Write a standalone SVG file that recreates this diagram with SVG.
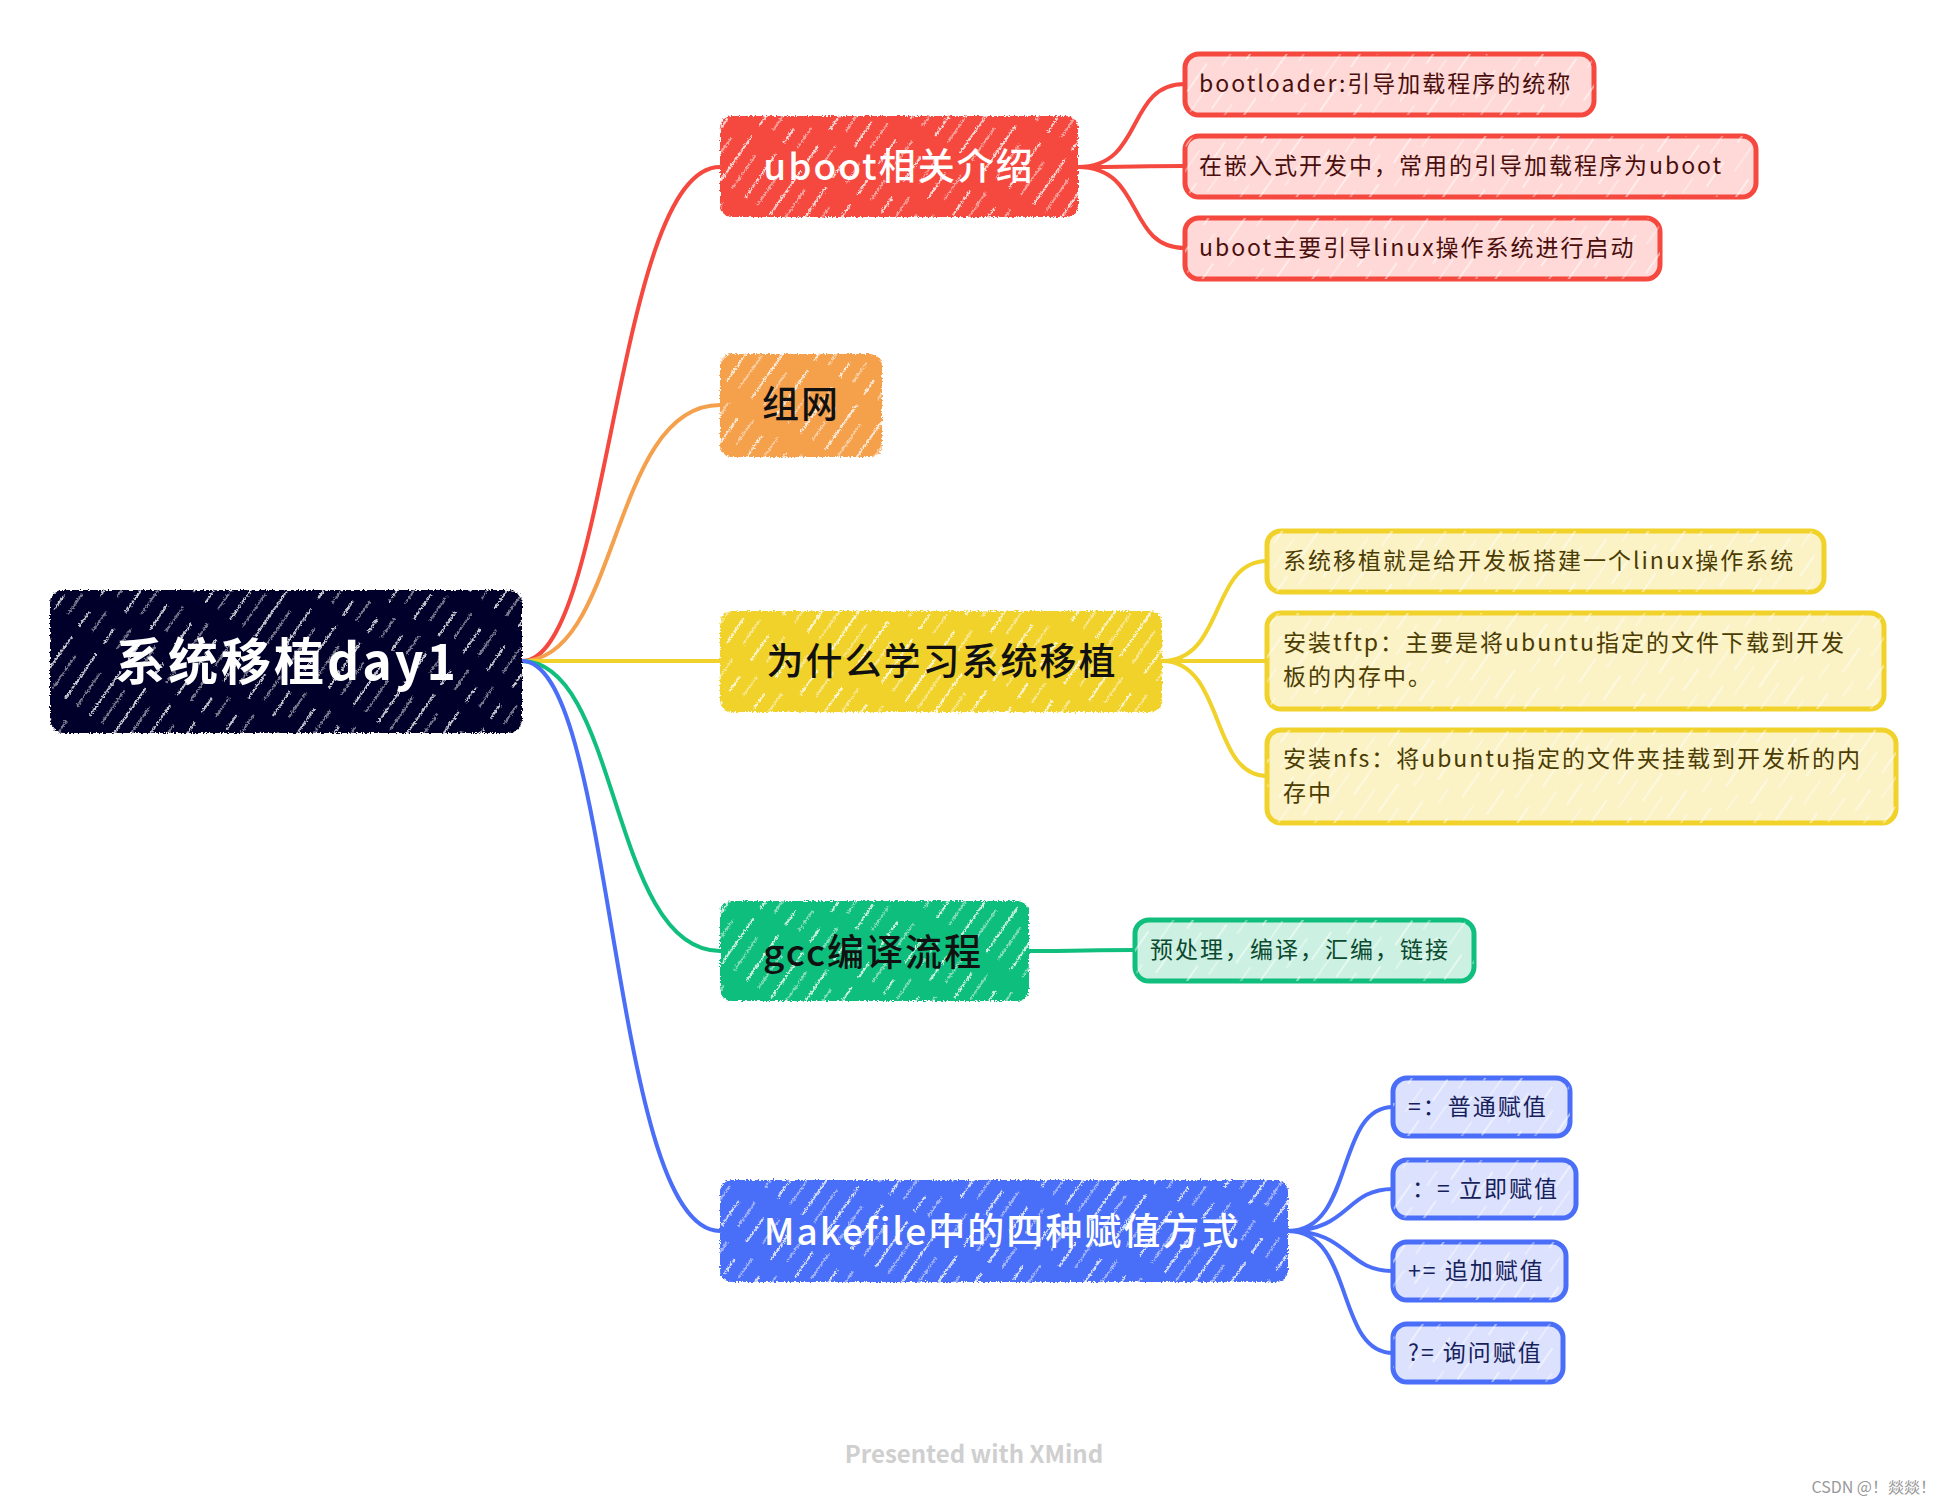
<svg xmlns="http://www.w3.org/2000/svg" width="1948" height="1506" viewBox="0 0 1948 1506">
  <defs>
    <pattern id="hatch" width="30" height="160" patternUnits="userSpaceOnUse" patternTransform="rotate(35)">
      <line x1="4" y1="0" x2="4" y2="160" stroke="#ffffff" stroke-width="1.8" stroke-dasharray="55 25 30 20 18 12"/>
      <line x1="18" y1="0" x2="18" y2="160" stroke="#ffffff" stroke-width="1.1" stroke-dasharray="24 30 40 18 30 18" stroke-dashoffset="40"/>
    </pattern>
    <pattern id="hatchLight" width="30" height="160" patternUnits="userSpaceOnUse" patternTransform="rotate(35)">
      <line x1="5" y1="0" x2="5" y2="160" stroke="#ffffff" stroke-width="1.4" stroke-dasharray="34 20 26 24 30 26"/>
      <line x1="19" y1="0" x2="19" y2="160" stroke="#ffffff" stroke-width="1" stroke-dasharray="18 26 36 20 30 30" stroke-dashoffset="25"/>
    </pattern>
    <filter id="rough" x="-5%" y="-10%" width="110%" height="120%">
      <feTurbulence type="fractalNoise" baseFrequency="0.6" numOctaves="1" seed="3" result="n"/>
      <feDisplacementMap in="SourceGraphic" in2="n" scale="5" xChannelSelector="R" yChannelSelector="G"/>
    </filter>
  </defs>
  <style>
    text { font-family: "Noto Sans CJK SC", "Noto Sans", sans-serif; }
    .main { font-size: 37px; font-weight: 500; letter-spacing: 2px; text-anchor: middle; }
    .sub { font-size: 23px; letter-spacing: 2px; }
    .conn { fill: none; stroke-width: 4; stroke-linecap: round; }
    .hatch { fill: url(#hatch); opacity: 0.85; }
    .hatchL { fill: url(#hatchLight); opacity: 0.7; }
  </style>
  <rect width="1948" height="1506" fill="#ffffff"/>

  <g id="connectors">
    <path class="conn" stroke="#F5483F" d="M522,661 C610,661 615,167 720,167"/>
    <path class="conn" stroke="#F5A04C" d="M522,661 C620,661 610,405 720,405"/>
    <path class="conn" stroke="#F1D22A" d="M522,661 L720,661"/>
    <path class="conn" stroke="#10BE7D" d="M522,661 C620,661 610,951 720,951"/>
    <path class="conn" stroke="#4A6EF8" d="M522,661 C615,661 610,1231 720,1231"/>

    <path class="conn" stroke="#F5483F" d="M1078,167 C1145,167 1125,84 1185,84"/>
    <path class="conn" stroke="#F5483F" d="M1078,167 C1130,167 1140,166 1185,166"/>
    <path class="conn" stroke="#F5483F" d="M1078,167 C1145,167 1125,248 1185,248"/>

    <path class="conn" stroke="#F1D22A" d="M1162,661 C1225,661 1210,561 1267,561"/>
    <path class="conn" stroke="#F1D22A" d="M1162,661 L1267,661"/>
    <path class="conn" stroke="#F1D22A" d="M1162,661 C1225,661 1210,776 1267,776"/>

    <path class="conn" stroke="#10BE7D" d="M1029,951 C1080,951 1090,950 1135,950"/>

    <path class="conn" stroke="#4A6EF8" d="M1288,1231 C1355,1231 1335,1107 1393,1107"/>
    <path class="conn" stroke="#4A6EF8" d="M1288,1231 C1350,1231 1345,1189 1393,1189"/>
    <path class="conn" stroke="#4A6EF8" d="M1288,1231 C1350,1231 1345,1271 1393,1271"/>
    <path class="conn" stroke="#4A6EF8" d="M1288,1231 C1355,1231 1335,1353 1393,1353"/>
  </g>

  <g id="root">
    <g filter="url(#rough)">
      <rect x="50" y="590" width="472" height="143" rx="14" fill="#03032A"/>
      <rect x="50" y="590" width="472" height="143" rx="14" class="hatch"/>
    </g>
    <text x="287" y="680" font-size="50" font-weight="700" fill="#ffffff" text-anchor="middle" letter-spacing="3">系统移植day1</text>
  </g>

  <g id="n-uboot">
    <g filter="url(#rough)">
      <rect x="720" y="116" width="358" height="101" rx="12" fill="#F5483F"/>
      <rect x="720" y="116" width="358" height="101" rx="12" class="hatch"/>
    </g>
    <text class="main" x="899" y="180" fill="#ffffff">uboot相关介绍</text>
  </g>

  <g id="n-uboot-1">
    <rect x="1185" y="54" width="409" height="61" rx="14" fill="#FFD9D7" stroke="#F5483F" stroke-width="5"/>
    <rect x="1185" y="54" width="409" height="61" rx="14" class="hatchL"/>
    <text class="sub" x="1199" y="92" fill="#4A0E0C">bootloader:引导加载程序的统称</text>
  </g>
  <g id="n-uboot-2">
    <rect x="1185" y="136" width="571" height="61" rx="14" fill="#FFD9D7" stroke="#F5483F" stroke-width="5"/>
    <rect x="1185" y="136" width="571" height="61" rx="14" class="hatchL"/>
    <text class="sub" x="1199" y="174" fill="#4A0E0C">在嵌入式开发中，常用的引导加载程序为uboot</text>
  </g>
  <g id="n-uboot-3">
    <rect x="1185" y="218" width="475" height="61" rx="14" fill="#FFD9D7" stroke="#F5483F" stroke-width="5"/>
    <rect x="1185" y="218" width="475" height="61" rx="14" class="hatchL"/>
    <text class="sub" x="1199" y="256" fill="#4A0E0C">uboot主要引导linux操作系统进行启动</text>
  </g>

  <g id="n-zuwang">
    <g filter="url(#rough)">
      <rect x="720" y="354" width="162" height="103" rx="12" fill="#F5A04C"/>
      <rect x="720" y="354" width="162" height="103" rx="12" class="hatch"/>
    </g>
    <text class="main" x="801" y="418" fill="#111111">组网</text>
  </g>

  <g id="n-why">
    <g filter="url(#rough)">
      <rect x="720" y="611" width="442" height="101" rx="12" fill="#F1D22A"/>
      <rect x="720" y="611" width="442" height="101" rx="12" class="hatch"/>
    </g>
    <text class="main" x="942" y="675" fill="#111111" letter-spacing="4">为什么学习系统移植</text>
  </g>

  <g id="n-why-1">
    <rect x="1267" y="531" width="557" height="61" rx="14" fill="#FBF2C5" stroke="#F1D22A" stroke-width="5"/>
    <rect x="1267" y="531" width="557" height="61" rx="14" class="hatchL"/>
    <text class="sub" x="1283" y="569" fill="#4B3C02">系统移植就是给开发板搭建一个linux操作系统</text>
  </g>
  <g id="n-why-2">
    <rect x="1267" y="613" width="617" height="96" rx="14" fill="#FBF2C5" stroke="#F1D22A" stroke-width="5"/>
    <rect x="1267" y="613" width="617" height="96" rx="14" class="hatchL"/>
    <text class="sub" x="1283" y="651" fill="#4B3C02">安装tftp：主要是将ubuntu指定的文件下载到开发</text>
    <text class="sub" x="1283" y="685" fill="#4B3C02">板的内存中。</text>
  </g>
  <g id="n-why-3">
    <rect x="1267" y="730" width="629" height="93" rx="14" fill="#FBF2C5" stroke="#F1D22A" stroke-width="5"/>
    <rect x="1267" y="730" width="629" height="93" rx="14" class="hatchL"/>
    <text class="sub" x="1283" y="767" fill="#4B3C02">安装nfs：将ubuntu指定的文件夹挂载到开发析的内</text>
    <text class="sub" x="1283" y="801" fill="#4B3C02">存中</text>
  </g>

  <g id="n-gcc">
    <g filter="url(#rough)">
      <rect x="720" y="901" width="309" height="100" rx="12" fill="#10BE7D"/>
      <rect x="720" y="901" width="309" height="100" rx="12" class="hatch"/>
    </g>
    <text class="main" x="873" y="966" fill="#111111">gcc编译流程</text>
  </g>

  <g id="n-gcc-1">
    <rect x="1135" y="920" width="339" height="61" rx="14" fill="#CCF1E3" stroke="#10BE7D" stroke-width="5"/>
    <rect x="1135" y="920" width="339" height="61" rx="14" class="hatchL"/>
    <text class="sub" x="1150" y="958" fill="#0B4A30">预处理，编译，汇编，链接</text>
  </g>

  <g id="n-make">
    <g filter="url(#rough)">
      <rect x="720" y="1180" width="568" height="102" rx="12" fill="#4A6EF8"/>
      <rect x="720" y="1180" width="568" height="102" rx="12" class="hatch"/>
    </g>
    <text class="main" x="1002" y="1245" fill="#ffffff">Makefile中的四种赋值方式</text>
  </g>

  <g id="n-make-1">
    <rect x="1393" y="1078" width="177" height="58" rx="14" fill="#DCE2FD" stroke="#4A6EF8" stroke-width="5"/>
    <rect x="1393" y="1078" width="177" height="58" rx="14" class="hatchL"/>
    <text class="sub" x="1408" y="1115" fill="#16215C">=：普通赋值</text>
  </g>
  <g id="n-make-2">
    <rect x="1393" y="1160" width="183" height="58" rx="14" fill="#DCE2FD" stroke="#4A6EF8" stroke-width="5"/>
    <rect x="1393" y="1160" width="183" height="58" rx="14" class="hatchL"/>
    <text class="sub" x="1412" y="1197" fill="#16215C">：= 立即赋值</text>
  </g>
  <g id="n-make-3">
    <rect x="1393" y="1242" width="173" height="58" rx="14" fill="#DCE2FD" stroke="#4A6EF8" stroke-width="5"/>
    <rect x="1393" y="1242" width="173" height="58" rx="14" class="hatchL"/>
    <text class="sub" x="1408" y="1279" fill="#16215C">+= 追加赋值</text>
  </g>
  <g id="n-make-4">
    <rect x="1393" y="1324" width="170" height="58" rx="14" fill="#DCE2FD" stroke="#4A6EF8" stroke-width="5"/>
    <rect x="1393" y="1324" width="170" height="58" rx="14" class="hatchL"/>
    <text class="sub" x="1408" y="1361" fill="#16215C">?= 询问赋值</text>
  </g>

  <text x="974" y="1463" font-family="'Open Sans', 'Liberation Sans', sans-serif" font-size="24" font-weight="600" fill="#CFCFCF" text-anchor="middle">Presented with XMind</text>
  <text x="1936" y="1493" font-size="16" fill="#999999" text-anchor="end">CSDN @！燚燚！</text>
</svg>
